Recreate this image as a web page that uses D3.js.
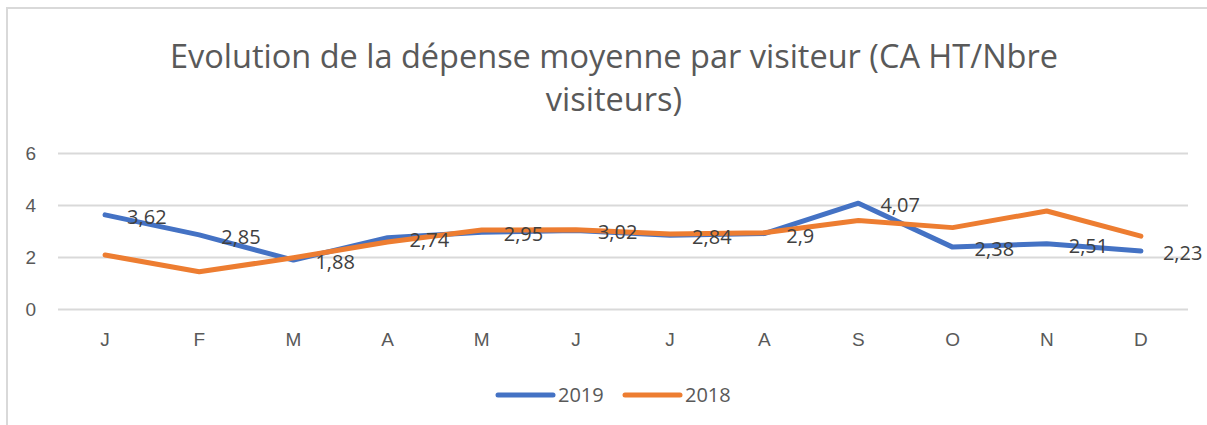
<!DOCTYPE html>
<html>
<head>
<meta charset="utf-8" />
<title>Dépense moyenne par visiteur</title>
<style>
  body { margin: 0; background: #fff; }
  svg { display: block; font-family: "Open Sans", sans-serif; }
</style>
</head>
<body>
<svg width="1207" height="425"></svg>
<script src="https://cdn.jsdelivr.net/npm/d3@7/dist/d3.min.js"></script>
<script>
var mois = ['J', 'F', 'M', 'A', 'M', 'J', 'J', 'A', 'S', 'O', 'N', 'D'];
var valeurs2019 = [3.62, 2.85, 1.88, 2.74, 2.95, 3.02, 2.84, 2.9, 4.07, 2.38, 2.51, 2.23];
var valeurs2018 = [2.08, 1.43, 1.97, 2.58, 3.04, 3.05, 2.88, 2.93, 3.4, 3.13, 3.77, 2.8];
var yTicks = [0, 2, 4, 6];
var titre = ['Evolution de la dépense moyenne par visiteur (CA HT/Nbre', 'visiteurs)'];

var series = [
    { nom: '2019', valeurs: valeurs2019, couleur: '#4472C4' },
    { nom: '2018', valeurs: valeurs2018, couleur: '#ED7D31' }
];

var svg = d3.select('svg');
var gauche = 58, droite = 1188, haut = 153, bas = 309;

// cadre
svg.append('path')
    .attr('d', 'M7,425 V8 H1207')
    .attr('fill', 'none')
    .attr('stroke', '#d9d9d9')
    .attr('stroke-width', 2);

// titre
svg.selectAll('.titre')
    .data(titre)
    .enter()
    .append('text')
    .attr('class', 'titre')
    .attr('x', 614)
    .attr('y', function (d, i) { return 68 + i * 43; })
    .attr('text-anchor', 'middle')
    .attr('font-size', 32.5)
    .attr('fill', '#595959')
    .text(function (d) { return d; });

var x = d3.scaleBand()
    .domain(d3.range(mois.length))
    .range([gauche, droite]);

var y = d3.scaleLinear()
    .domain([0, 6])
    .range([bas, haut]);

// grille
var axeY = d3.axisLeft(y)
    .tickValues(yTicks)
    .tickFormat(d3.format('d'))
    .tickSize(-(droite - gauche))
    .tickPadding(22);

svg.append('g')
    .attr('transform', 'translate(' + gauche + ',0)')
    .call(axeY)
    .call(function (g) {
        g.select('.domain').remove();
        g.selectAll('line').attr('stroke', '#d9d9d9').attr('stroke-width', 2);
        g.selectAll('text').attr('font-size', 19).attr('fill', '#595959')
            .attr('font-family', 'inherit');
    });

var axeX = d3.axisBottom(x)
    .tickFormat(function (i) { return mois[i]; })
    .tickSize(0)
    .tickPadding(24);

svg.append('g')
    .attr('transform', 'translate(0,' + bas + ')')
    .call(axeX)
    .call(function (g) {
        g.select('.domain').remove();
        g.selectAll('text').attr('font-size', 19).attr('fill', '#595959')
            .attr('font-family', 'inherit');
    });

var ligne = d3.line()
    .x(function (d, i) { return x(i) + x.bandwidth() / 2; })
    .y(function (d) { return y(d); });

series.forEach(function (s) {
    svg.append('path')
        .datum(s.valeurs)
        .attr('d', ligne)
        .attr('fill', 'none')
        .attr('stroke', s.couleur)
        .attr('stroke-width', 5)
        .attr('stroke-linecap', 'round')
        .attr('stroke-linejoin', 'round');
});

// étiquettes de données (2019)
var fmt = function (v) { return String(v).replace('.', ','); };
svg.append('g')
    .selectAll('text')
    .data(valeurs2019)
    .enter()
    .append('text')
    .attr('x', function (d, i) { return x(i) + x.bandwidth() / 2 + 22; })
    .attr('y', function (d) { return y(d) + 9; })
    .attr('font-size', 20)
    .attr('fill', '#404040')
    .text(fmt);

// légende
var legende = svg.append('g').attr('transform', 'translate(498,395)');
var pos = [0, 127];
series.forEach(function (s, i) {
    var g = legende.append('g').attr('transform', 'translate(' + pos[i] + ',0)');
    g.append('line')
        .attr('x1', 0).attr('x2', 55)
        .attr('stroke', s.couleur)
        .attr('stroke-width', 5)
        .attr('stroke-linecap', 'round');
    g.append('text')
        .attr('x', 60)
        .attr('y', 7)
        .attr('font-size', 20)
        .attr('fill', '#595959')
        .text(s.nom);
});
</script>
</body>
</html>
